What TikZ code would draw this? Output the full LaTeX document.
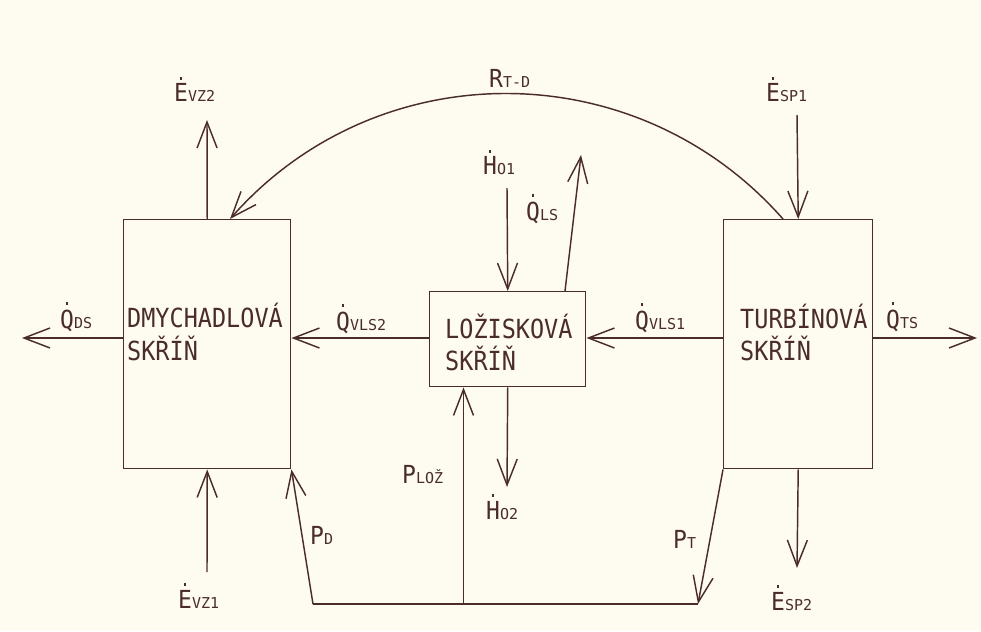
\documentclass[tikz,border=0pt]{standalone}
\usepackage{fontspec}
\usepackage{graphicx}
\setmainfont{DejaVu Sans Mono}
\usetikzlibrary{arrows.meta,calc}
\definecolor{bgc}{HTML}{FEFCF0}
\definecolor{ink}{HTML}{4B2C2C}
\newcommand\mainsz{\fontsize{23}{23}\selectfont}
\newcommand\subsz{\fontsize{15}{15}\selectfont}
\newcommand\dt[1]{\leavevmode\setbox0\hbox{#1}\rlap{\hbox to\wd0{\hss\raisebox{\dimexpr\ht0+4pt\relax}{\rule{2.6pt}{2.6pt}}\hss}}\box0}
\newcommand\lab[2]{{\mainsz\scalebox{1}[1.08]{#1}}{\subsz #2}}
\newcommand\tall[1]{\scalebox{1}[1.12]{#1}}
\tikzset{
  boxnode/.style={draw=ink,line width=1.45pt,rectangle,inner sep=0pt,anchor=north west},
  arr/.style={draw=ink,line width=1.45pt,-{Straight Barb[length=26pt,width=20pt]}},
  ln/.style={draw=ink,line width=1.45pt},
  lbl/.style={text=ink,inner sep=0pt,anchor=base west},
  btxt/.style={text=ink,inner sep=0pt,anchor=base west,font=\fontsize{23.5}{23.5}\selectfont}
}
\begin{document}
\begin{tikzpicture}[x=1pt,y=-1pt]
\useasboundingbox (0,0) rectangle (981,631);
\fill[bgc] (0,0) rectangle (981,631);
% boxes
\node[boxnode,minimum width=167pt,minimum height=249pt] (D) at (123,219) {};
\node[boxnode,minimum width=156pt,minimum height=95pt] (L) at (429,291) {};
\node[boxnode,minimum width=149pt,minimum height=249pt] (T) at (723,219) {};
% box texts
\node[btxt] (d1) at (127,327) {\tall{DMYCHADLOVÁ}};
\node[btxt] (d2) at (127,360) {\tall{SKŘÍŇ}};
\node[btxt] (l1) at (445,338) {\tall{LOŽISKOVÁ}};
\node[btxt] (l2) at (445,370) {\tall{SKŘÍŇ}};
\node[btxt] (t1) at (740,328) {\tall{TURBÍNOVÁ}};
\node[btxt] (t2) at (740,360) {\tall{SKŘÍŇ}};
% coordinates
\coordinate (axis) at (0,338);
\coordinate (qdsEnd) at (22,338);
\coordinate (qtsEnd) at (977,338);
\coordinate (evz2End) at (207,120);
\coordinate (evz1Start) at (207,572);
\coordinate (esp1Start) at (797,115);
\coordinate (esp2End) at (797,568);
\coordinate (ho1Start) at (507,188);
\coordinate (ho2End) at (507,487);
\coordinate (qlsEnd) at (581,155);
\coordinate (bl) at (313,604);
\coordinate (br) at (698,604);
\coordinate (pm) at (463.5,604);
% horizontal flows
\draw[arr] (D.west |- axis) -- (qdsEnd);
\draw[arr] (L.west |- axis) -- (D.east |- axis);
\draw[arr] (T.west |- axis) -- (L.east |- axis);
\draw[arr] (T.east |- axis) -- (qtsEnd);
% vertical flows
\draw[arr] (D.north) -- (evz2End);
\draw[arr] (evz1Start) -- (D.south);
\draw[arr] (esp1Start) -- (T.north);
\draw[arr] (T.south) -- (esp2End);
\draw[arr] (ho1Start) -- (L.north);
\draw[arr] (L.south) -- (ho2End);
\draw[arr] ($(L.north west)+(136,0)$) -- (qlsEnd);
% power lines
\draw[arr] (T.south west) -- (br);
\draw[ln] (br) -- (bl);
\draw[arr] (bl) -- (D.south east);
\draw[arr] (pm) -- (L.south west -| pm);
% arc R_T-D
\draw[arr] ($(T.north west)+(60,0)$) .. controls (636,52) and (377,52) .. ($(D.north west)+(107,0)$);
% labels
\node[lbl] (lqds) at (60,328) {\lab{\dt{Q}}{DS}};
\node[lbl] (lqvls2) at (336,330) {\lab{\dt{Q}}{VLS2}};
\node[lbl] (lqvls1) at (635,329) {\lab{\dt{Q}}{VLS1}};
\node[lbl] (lqts) at (886,328) {\lab{\dt{Q}}{TS}};
\node[lbl] (levz2) at (174,102) {\lab{\dt{E}}{VZ2}};
\node[lbl] (lesp1) at (766,102) {\lab{\dt{E}}{SP1}};
\node[lbl] (lho1) at (483,175) {\lab{\dt{H}}{O1}};
\node[lbl] (lqls) at (526,220) {\lab{\dt{Q}}{LS}};
\node[lbl] (lrtd) at (489,88) {\lab{R}{T-D}};
\node[lbl] (levz1) at (178,608) {\lab{\dt{E}}{VZ1}};
\node[lbl] (lpd) at (310,544) {\lab{P}{D}};
\node[lbl] (lploz) at (402,483) {\lab{P}{LOŽ}};
\node[lbl] (lho2) at (486,519) {\lab{\dt{H}}{O2}};
\node[lbl] (lpt) at (673,548) {\lab{P}{T}};
\node[lbl] (lesp2) at (771,610) {\lab{\dt{E}}{SP2}};
\end{tikzpicture}
\end{document}
